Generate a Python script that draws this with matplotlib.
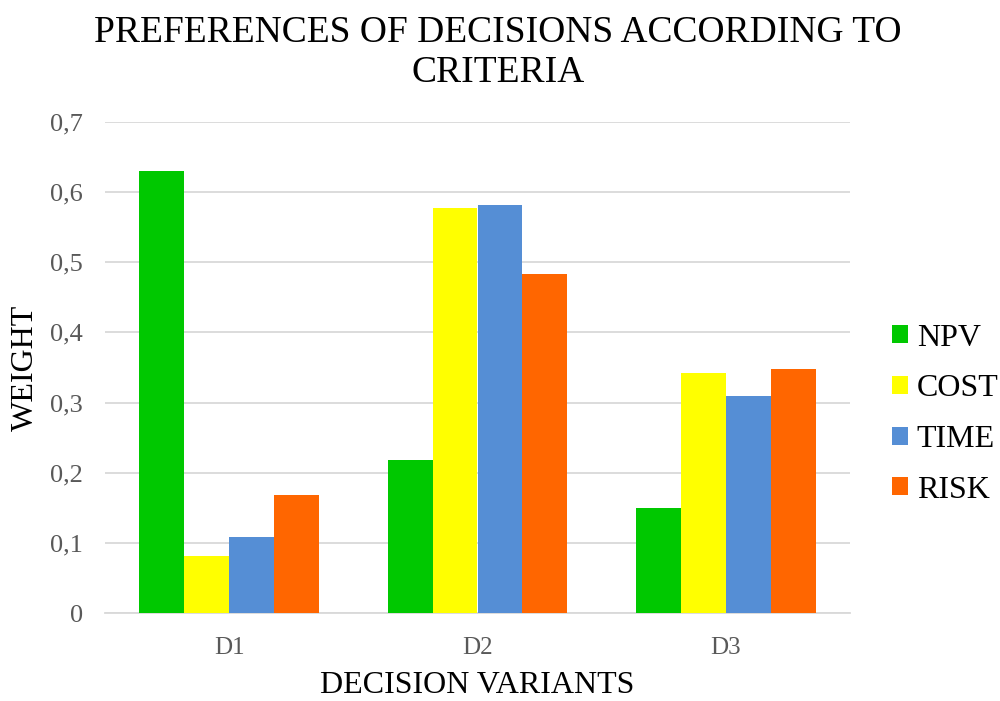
import matplotlib
matplotlib.use("Agg")
import matplotlib.pyplot as plt
import numpy as np

categories = ["D1", "D2", "D3"]
series_names = ["NPV", "COST", "TIME", "RISK"]
npv = [0.630, 0.218, 0.150]
cost = [0.081, 0.577, 0.342]
time_ = [0.108, 0.582, 0.309]
risk = [0.168, 0.483, 0.348]
colors = ["#00C800", "#FFFF00", "#558ED5", "#FF6600"]
yticks = [0, 0.1, 0.2, 0.3, 0.4, 0.5, 0.6, 0.7]
ytick_labels = ["0", "0,1", "0,2", "0,3", "0,4", "0,5", "0,6", "0,7"]

plt.rcParams['font.family'] = ['Liberation Serif', 'DejaVu Serif']

fig = plt.figure(figsize=(10, 7.01), dpi=100)
ax = fig.add_axes([0.105, 0.1255, 0.745, 0.7005])

x = np.arange(len(categories))
bw = 0.181
data = [npv, cost, time_, risk]
for i, (vals, name, c) in enumerate(zip(data, series_names, colors)):
    ax.bar(x + (i - 1.5) * bw, vals, bw, color=c, label=name, zorder=3)

ax.set_xlim(-0.5, 2.5)
ax.set_ylim(0, 0.7)
ax.set_yticks(yticks)
ax.set_yticklabels(ytick_labels, fontsize=19, color="#595959")
ax.set_xticks(x)
ax.set_xticklabels(categories, fontsize=18, color="#595959")
ax.tick_params(axis='y', length=0, pad=16)
ax.tick_params(axis='x', length=0, pad=17)
ax.grid(axis='y', color="#D9D9D9", linewidth=1.3, zorder=0)
for s in ["top", "right", "left"]:
    ax.spines[s].set_visible(False)
ax.spines["bottom"].set_color("#D9D9D9")
ax.spines["bottom"].set_linewidth(1.3)

ax.set_xlabel("DECISION VARIANTS", fontsize=23, labelpad=9)
ax.set_ylabel("WEIGHT", fontsize=23, labelpad=7)
fig.suptitle("PREFERENCES OF DECISIONS ACCORDING TO\nCRITERIA", fontsize=27, y=0.978, linespacing=1.2, x=0.498)

leg = ax.legend(loc="center left", bbox_to_anchor=(1.0175, 0.405), frameon=False,
                fontsize=23, handlelength=0.5, handleheight=0.5, handletextpad=0.28,
                labelspacing=0.68)

fig.savefig("out.png", dpi=100)
